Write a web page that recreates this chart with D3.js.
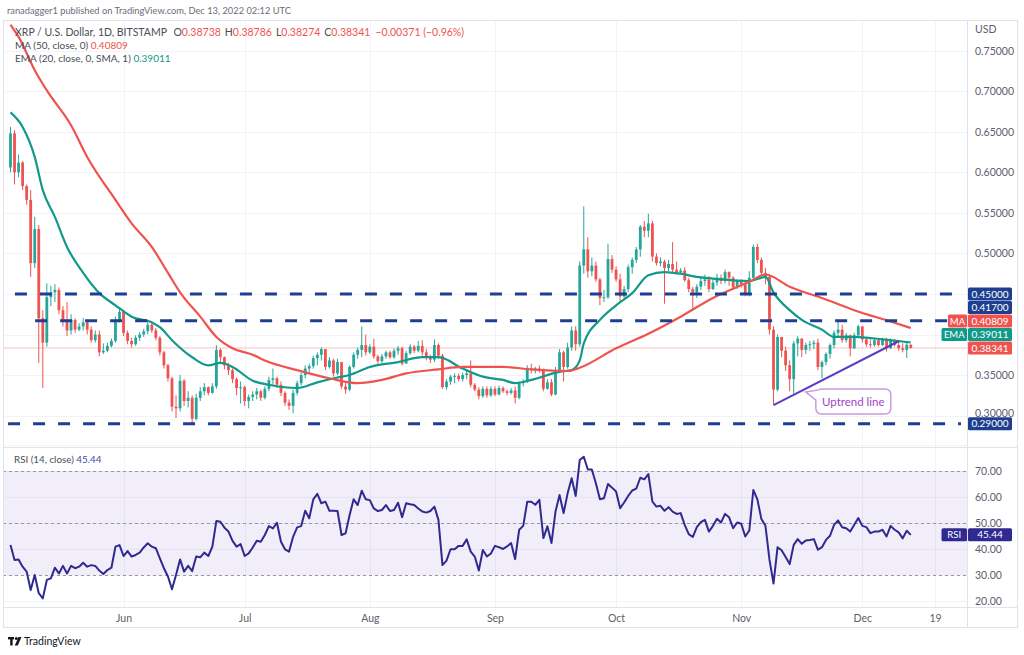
<!DOCTYPE html>
<html>
<head>
<meta charset="utf-8">
<script src="https://cdn.jsdelivr.net/npm/d3@7"></script>
<style>
  body { margin: 0; background: #ffffff; }
  svg { display: block; font-family: Lato, "Open Sans", sans-serif; }
</style>
</head>
<body>
<svg id="chart" width="1024" height="655"></svg>
<script>

/************************************************************************************************************/
// Data (XRP / USD, 1D, Bitstamp, from 4 May 2022, one value per day)

var startDay = Date.UTC(2022, 4, 4);
var firstOpen = 0.606;

var closes = [
  0.648,0.600,0.612,0.583,0.566,0.488,0.530,0.420,0.390,0.446,
  0.452,0.455,0.430,0.418,0.405,0.418,0.406,0.410,0.415,0.406,
  0.393,0.400,0.378,0.380,0.386,0.392,0.418,0.428,0.402,0.392,
  0.388,0.396,0.400,0.404,0.412,0.405,0.396,0.378,0.362,0.346,
  0.311,0.309,0.343,0.318,0.322,0.296,0.322,0.330,0.335,0.328,
  0.336,0.381,0.372,0.362,0.356,0.345,0.334,0.335,0.318,0.323,
  0.326,0.330,0.322,0.333,0.344,0.346,0.338,0.328,0.316,0.312,
  0.328,0.340,0.350,0.358,0.361,0.371,0.375,0.382,0.360,0.368,
  0.352,0.366,0.336,0.332,0.360,0.375,0.381,0.387,0.378,0.385,
  0.373,0.367,0.373,0.378,0.372,0.380,0.383,0.364,0.377,0.385,
  0.380,0.386,0.378,0.371,0.369,0.387,0.374,0.335,0.342,0.348,
  0.349,0.345,0.350,0.352,0.338,0.332,0.324,0.333,0.325,0.333,
  0.326,0.334,0.330,0.328,0.331,0.322,0.340,0.342,0.358,0.356,
  0.358,0.357,0.333,0.341,0.326,0.356,0.378,0.360,0.384,0.405,
  0.388,0.485,0.505,0.478,0.485,0.468,0.445,0.446,0.493,0.480,
  0.468,0.447,0.456,0.483,0.492,0.505,0.533,0.528,0.537,0.496,
  0.488,0.490,0.482,0.487,0.480,0.477,0.479,0.467,0.456,0.452,
  0.459,0.466,0.468,0.456,0.464,0.470,0.466,0.477,0.470,0.458,
  0.466,0.462,0.449,0.470,0.508,0.492,0.476,0.471,0.406,0.332,
  0.397,0.380,0.362,0.345,0.389,0.395,0.381,0.387,0.388,0.390,
  0.360,0.366,0.376,0.387,0.402,0.406,0.393,0.399,0.383,0.399,
  0.410,0.394,0.388,0.387,0.393,0.387,0.394,0.383,0.392,0.387,
  0.383,0.381,0.38738,0.38341
];

var highs = [
  0.656,0.652,0.622,0.614,0.585,0.578,0.545,0.535,0.430,0.463,
  0.460,0.462,0.458,0.435,0.440,0.425,0.420,0.414,0.420,0.418,
  0.410,0.405,0.405,0.389,0.390,0.395,0.422,0.434,0.430,0.405,
  0.396,0.399,0.403,0.407,0.416,0.414,0.408,0.398,0.380,0.364,
  0.348,0.325,0.350,0.345,0.330,0.325,0.327,0.335,0.340,0.336,
  0.340,0.387,0.383,0.373,0.365,0.358,0.347,0.342,0.337,0.326,
  0.330,0.334,0.332,0.336,0.348,0.358,0.348,0.342,0.330,0.320,
  0.332,0.343,0.353,0.362,0.364,0.374,0.378,0.384,0.382,0.372,
  0.370,0.370,0.366,0.340,0.362,0.378,0.384,0.410,0.400,0.388,
  0.395,0.375,0.376,0.380,0.380,0.383,0.386,0.385,0.380,0.388,
  0.387,0.392,0.393,0.382,0.375,0.394,0.389,0.376,0.345,0.350,
  0.352,0.352,0.353,0.357,0.368,0.340,0.335,0.336,0.336,0.336,
  0.336,0.337,0.336,0.332,0.334,0.336,0.342,0.345,0.362,0.364,
  0.360,0.362,0.358,0.345,0.345,0.360,0.382,0.380,0.390,0.410,
  0.410,0.490,0.558,0.520,0.495,0.490,0.470,0.455,0.512,0.498,
  0.484,0.475,0.460,0.486,0.495,0.508,0.535,0.540,0.549,0.540,
  0.500,0.495,0.492,0.492,0.514,0.490,0.482,0.483,0.470,0.459,
  0.462,0.470,0.474,0.472,0.468,0.475,0.474,0.480,0.478,0.472,
  0.468,0.468,0.464,0.478,0.511,0.512,0.495,0.482,0.474,0.410,
  0.400,0.397,0.385,0.368,0.392,0.398,0.395,0.390,0.392,0.393,
  0.395,0.368,0.378,0.389,0.405,0.418,0.412,0.402,0.400,0.402,
  0.412,0.410,0.396,0.394,0.396,0.395,0.396,0.396,0.395,0.394,
  0.392,0.389,0.390,0.38786
];

var lows = [
  0.600,0.585,0.594,0.578,0.560,0.471,0.482,0.365,0.334,0.385,
  0.435,0.440,0.425,0.410,0.398,0.400,0.402,0.404,0.405,0.400,
  0.390,0.390,0.373,0.376,0.378,0.384,0.390,0.415,0.398,0.388,
  0.384,0.386,0.392,0.397,0.400,0.402,0.393,0.374,0.358,0.342,
  0.305,0.297,0.305,0.312,0.310,0.290,0.294,0.318,0.325,0.325,
  0.327,0.333,0.365,0.357,0.350,0.340,0.325,0.315,0.312,0.309,
  0.318,0.320,0.318,0.320,0.330,0.338,0.334,0.324,0.312,0.307,
  0.303,0.325,0.337,0.346,0.353,0.358,0.362,0.368,0.356,0.358,
  0.348,0.350,0.333,0.327,0.330,0.358,0.370,0.372,0.374,0.376,
  0.370,0.364,0.365,0.370,0.370,0.370,0.375,0.362,0.365,0.375,
  0.377,0.378,0.374,0.368,0.365,0.366,0.370,0.333,0.332,0.338,
  0.340,0.342,0.342,0.345,0.335,0.330,0.320,0.322,0.322,0.323,
  0.324,0.325,0.328,0.325,0.326,0.315,0.320,0.336,0.340,0.352,
  0.352,0.353,0.330,0.332,0.324,0.325,0.354,0.342,0.358,0.380,
  0.380,0.385,0.475,0.470,0.472,0.465,0.436,0.440,0.444,0.476,
  0.465,0.440,0.445,0.452,0.475,0.488,0.496,0.520,0.520,0.490,
  0.485,0.484,0.438,0.478,0.476,0.474,0.474,0.465,0.452,0.430,
  0.445,0.455,0.460,0.452,0.455,0.460,0.462,0.463,0.460,0.455,
  0.456,0.458,0.447,0.447,0.466,0.488,0.472,0.462,0.400,0.313,
  0.330,0.372,0.355,0.330,0.327,0.373,0.372,0.376,0.380,0.382,
  0.356,0.346,0.362,0.370,0.383,0.398,0.390,0.390,0.373,0.382,
  0.396,0.390,0.385,0.384,0.385,0.385,0.386,0.379,0.382,0.385,
  0.380,0.378,0.371,0.38274
];

var rsi = [
  41.5,35.8,36.0,33.2,31.3,24.2,30.0,23.0,21.0,28.1,
  28.7,32.8,30.6,33.5,30.6,33.5,32.6,33.2,34.7,33.2,
  33.8,33.5,31.7,30.4,31.9,32.8,40.9,41.5,37.3,39.2,
  37.1,37.7,38.6,40.6,42.2,40.9,40.3,36.4,32.6,29.4,
  24.5,30.0,36.0,31.3,33.5,31.5,37.1,36.8,38.6,37.3,
  40.9,50.8,50.5,48.2,46.7,43.1,40.9,41.9,37.3,38.3,
  40.6,43.2,42.8,45.4,48.8,47.9,50.1,42.8,39.9,39.0,
  44.7,48.3,48.8,54.7,51.8,59.1,61.2,57.6,58.2,54.7,
  54.7,54.6,45.4,46.0,53.1,59.1,56.9,62.4,59.1,58.8,
  55.6,54.6,55.0,56.9,54.6,55.0,57.8,52.2,57.6,57.2,
  56.9,55.6,54.4,54.0,54.6,56.3,51.2,33.8,35.5,39.9,
  39.9,41.2,41.2,43.7,39.0,37.1,31.7,39.6,37.1,38.3,
  41.2,40.7,40.0,41.0,42.3,36.1,47.4,48.9,58.2,58.2,
  57.0,58.9,44.2,48.7,42.3,54.4,60.8,53.8,61.4,67.2,
  60.4,74.2,75.5,70.6,70.6,65.3,59.1,59.5,65.0,63.6,
  62.1,55.7,57.9,60.4,62.5,63.2,67.4,66.8,68.8,58.2,
  56.3,56.6,54.7,56.1,54.4,53.5,53.8,49.3,45.7,44.6,
  48.4,50.3,51.2,46.7,48.9,51.6,50.2,53.5,52.2,48.0,
  50.2,49.7,44.8,47.1,62.7,59.1,51.5,48.9,35.9,26.7,
  40.7,39.5,36.9,34.2,41.6,43.8,42.0,43.3,43.5,43.8,
  39.7,40.7,43.5,45.1,49.3,51.0,48.4,48.0,46.7,49.3,
  51.9,48.9,48.4,46.1,46.7,46.7,47.4,44.8,48.9,47.4,
  46.4,44.1,47.0,45.44
];

// indicator lines, [day index, value]
var ma50 = [
  [0,0.782],[2,0.767],[6,0.726],[9,0.701],[15,0.658],[19,0.619],[26,0.566],[30,0.537],[35,0.508],
  [39,0.476],[42,0.452],[47,0.422],[51,0.397],[55,0.383],[60,0.375],[63,0.368],[71,0.356],[79,0.346],
  [86,0.340],[92,0.344],[98,0.352],[106,0.357],[112,0.360],[122,0.360],[129,0.357],[138,0.355],
  [141,0.359],[150,0.383],[158,0.401],[166,0.422],[174,0.445],[183,0.465],[187,0.474],[193,0.459],
  [201,0.445],[209,0.430],[218,0.416],[223,0.40809]
];

var ema20 = [
  [0,0.674],[3,0.656],[6,0.619],[8,0.578],[11,0.545],[14,0.508],[18,0.476],[22,0.451],[26,0.436],
  [30,0.422],[35,0.415],[37,0.409],[40,0.393],[45,0.372],[49,0.362],[52,0.365],[55,0.360],[60,0.343],
  [64,0.338],[71,0.334],[76,0.341],[81,0.347],[84,0.350],[89,0.360],[96,0.366],[102,0.372],[106,0.372],
  [112,0.358],[117,0.348],[122,0.344],[125,0.340],[129,0.344],[136,0.354],[139,0.356],[141,0.368],
  [142,0.389],[146,0.418],[150,0.436],[154,0.451],[158,0.473],[162,0.477],[166,0.475],[170,0.471],
  [174,0.469],[183,0.466],[187,0.471],[189,0.452],[193,0.430],[196,0.418],[201,0.406],[204,0.397],
  [209,0.397],[216,0.394],[223,0.39011]
];

// horizontal levels drawn on the chart and the day they start from
var levels = [0.45, 0.417, 0.29];
var levelStart = [1.1, 6.1, -0.6];

// uptrend line, [day index, price]
var uptrend = [[189, 0.313], [220, 0.3917]];

var priceTicks = [0.30, 0.35, 0.40, 0.45, 0.50, 0.55, 0.60, 0.65, 0.70, 0.75];
var rsiTicks = [20, 30, 40, 50, 60, 70];
var timeTicks = [
  [Date.UTC(2022,5,1), "Jun"], [Date.UTC(2022,6,1), "Jul"], [Date.UTC(2022,7,1), "Aug"],
  [Date.UTC(2022,8,1), "Sep"], [Date.UTC(2022,9,1), "Oct"], [Date.UTC(2022,10,1), "Nov"],
  [Date.UTC(2022,11,1), "Dec"], [Date.UTC(2022,11,19), "19"]
];

var legend = { open: "0.38738", high: "0.38786", low: "0.38274", close: "0.38341",
  change: "\u22120.00371 (\u22120.96%)", ma: "0.40809", ema: "0.39011", rsi: "45.44" };

/************************************************************************************************************/

var GREEN = "#26a69a", RED = "#ef5350", NAVY = "#1e3f91", TEAL = "#11998a", INDIGO = "#2f2a8f";
var GRID = "#f1f3f8", BORDER = "#e0e3eb", TEXT = "#5d606b";

var svg = d3.select("#chart");

svg.margin = {left: 3, top: 20, right: 967, bottom: 628};
svg.priceBottom = 447;
svg.rsiBottom = 607;

function dayDate(i){ return new Date(startDay + i * 864e5); }

var x = d3.scaleUtc()
  .domain([new Date(startDay), new Date(Date.UTC(2022, 11, 19))])
  .range([10.5, 935]);

var yPrice = d3.scaleLinear().domain([0.29, 0.75]).range([423.7, 50.7]);
var yRsi = d3.scaleLinear().domain([30, 70]).range([575, 471]);

var opens = closes.map(function(c, i){ return i === 0 ? firstOpen : closes[i - 1]; });

// clip regions
var defs = svg.append("defs");
defs.append("clipPath").attr("id", "clipPrice").append("rect")
  .attr("x", svg.margin.left).attr("y", svg.margin.top)
  .attr("width", svg.margin.right - svg.margin.left).attr("height", svg.priceBottom - svg.margin.top);
defs.append("clipPath").attr("id", "clipRsi").append("rect")
  .attr("x", svg.margin.left).attr("y", svg.priceBottom)
  .attr("width", svg.margin.right - svg.margin.left).attr("height", svg.rsiBottom - svg.priceBottom);

/************************************************************************************************************/
// grid

var grid = svg.append("g").attr("class", "grid").attr("stroke", GRID).attr("stroke-width", 1);

priceTicks.forEach(function(t){
  grid.append("line").attr("x1", svg.margin.left).attr("x2", svg.margin.right)
    .attr("y1", Math.round(yPrice(t)) + 0.5).attr("y2", Math.round(yPrice(t)) + 0.5);
});
rsiTicks.concat([80]).forEach(function(t){
  grid.append("line").attr("x1", svg.margin.left).attr("x2", svg.margin.right)
    .attr("y1", Math.round(yRsi(t)) + 0.5).attr("y2", Math.round(yRsi(t)) + 0.5);
});
timeTicks.forEach(function(t){
  var px = Math.round(x(new Date(t[0]))) + 0.5;
  grid.append("line").attr("x1", px).attr("x2", px).attr("y1", svg.margin.top).attr("y2", svg.rsiBottom);
});

/************************************************************************************************************/
// price panel

var price = svg.append("g").attr("clip-path", "url(#clipPrice)");

// last price line
price.append("line")
  .attr("x1", svg.margin.left).attr("x2", svg.margin.right)
  .attr("y1", yPrice(+legend.close)).attr("y2", yPrice(+legend.close))
  .attr("stroke", RED).attr("stroke-opacity", 0.35).attr("stroke-width", 1);

var candles = price.append("g").selectAll("g")
  .data(closes.map(function(c, i){ return {i: i, o: opens[i], h: highs[i], l: lows[i], c: c}; }))
  .enter().append("g");

candles.append("line")
  .attr("x1", function(d){ return x(dayDate(d.i)); })
  .attr("x2", function(d){ return x(dayDate(d.i)); })
  .attr("y1", function(d){ return yPrice(d.h); })
  .attr("y2", function(d){ return yPrice(d.l); })
  .attr("stroke", function(d){ return d.c >= d.o ? GREEN : RED; })
  .attr("stroke-width", 1);

candles.append("rect")
  .attr("x", function(d){ return x(dayDate(d.i)) - 1.4; })
  .attr("width", 2.8)
  .attr("y", function(d){ return yPrice(Math.max(d.o, d.c)); })
  .attr("height", function(d){ return Math.max(1, Math.abs(yPrice(d.o) - yPrice(d.c))); })
  .attr("fill", function(d){ return d.c >= d.o ? GREEN : RED; });

var indicatorLine = d3.line()
  .x(function(d){ return x(dayDate(d[0])); })
  .y(function(d){ return yPrice(d[1]); })
  .curve(d3.curveMonotoneX);

price.append("path").attr("d", indicatorLine(ema20))
  .attr("fill", "none").attr("stroke", TEAL).attr("stroke-width", 2.2);
price.append("path").attr("d", indicatorLine(ma50))
  .attr("fill", "none").attr("stroke", RED).attr("stroke-width", 2.2);

// dashed levels
levels.forEach(function(v, k){
  price.append("line")
    .attr("x1", x(dayDate(levelStart[k]))).attr("x2", svg.margin.right - 6)
    .attr("y1", yPrice(v)).attr("y2", yPrice(v))
    .attr("stroke", NAVY).attr("stroke-width", 3).attr("stroke-dasharray", "12,13");
});

// uptrend line
price.append("line")
  .attr("x1", x(dayDate(uptrend[0][0]))).attr("y1", yPrice(uptrend[0][1]))
  .attr("x2", x(dayDate(uptrend[1][0]))).attr("y2", yPrice(uptrend[1][1]))
  .attr("stroke", "#5b3cc4").attr("stroke-width", 2);

// callout
var cx = x(dayDate(197)), cy = yPrice(0.329);
var bx = cx + 10, by = cy - 3, bw = 75, bh = 25;
price.append("path")
  .attr("d", "M" + (bx + 6) + "," + by + "H" + (bx + bw - 6) + "Q" + (bx + bw) + "," + by + " " + (bx + bw) + "," + (by + 6) +
    "V" + (by + bh - 6) + "Q" + (bx + bw) + "," + (by + bh) + " " + (bx + bw - 6) + "," + (by + bh) +
    "H" + (bx + 6) + "Q" + bx + "," + (by + bh) + " " + bx + "," + (by + bh - 6) +
    "V" + (by + 11) + "L" + cx + "," + cy + "L" + (bx + 3) + "," + (by + 0.8) + "Q" + (bx + 4) + "," + by + " " + (bx + 6) + "," + by + "Z")
  .attr("fill", "#ffffff").attr("stroke", "#c99be0").attr("stroke-width", 1.5);
price.append("text")
  .attr("x", bx + bw / 2).attr("y", by + bh / 2 + 4)
  .attr("text-anchor", "middle").attr("font-size", 11.5).attr("fill", "#9b45c9")
  .text("Uptrend line");

/************************************************************************************************************/
// RSI panel

var rsiG = svg.append("g").attr("clip-path", "url(#clipRsi)");

rsiG.append("rect")
  .attr("x", svg.margin.left).attr("width", svg.margin.right - svg.margin.left)
  .attr("y", yRsi(70)).attr("height", yRsi(30) - yRsi(70))
  .attr("fill", "#7e57c2").attr("fill-opacity", 0.1);

[70, 50, 30].forEach(function(v){
  rsiG.append("line")
    .attr("x1", svg.margin.left).attr("x2", svg.margin.right)
    .attr("y1", Math.round(yRsi(v)) + 0.5).attr("y2", Math.round(yRsi(v)) + 0.5)
    .attr("stroke", "#9598a1").attr("stroke-width", 1).attr("stroke-dasharray", "3,3");
});

rsiG.append("path")
  .attr("d", d3.line()
    .x(function(d, i){ return x(dayDate(i)); })
    .y(function(d){ return yRsi(d); })(rsi))
  .attr("fill", "none").attr("stroke", INDIGO).attr("stroke-width", 2).attr("stroke-linejoin", "round");

/************************************************************************************************************/
// frame and separators

var frame = svg.append("g").attr("stroke", BORDER).attr("fill", "none");
frame.append("rect").attr("x", 3.5).attr("y", 20.5).attr("width", 1014).attr("height", 607);
frame.append("line").attr("x1", 3).attr("x2", 1018).attr("y1", svg.priceBottom + 0.5).attr("y2", svg.priceBottom + 0.5);
frame.append("line").attr("x1", 3).attr("x2", 1018).attr("y1", svg.rsiBottom + 0.5).attr("y2", svg.rsiBottom + 0.5);
frame.append("line").attr("x1", svg.margin.right + 0.5).attr("x2", svg.margin.right + 0.5).attr("y1", 20).attr("y2", 628);

/************************************************************************************************************/
// price tags on the right axis, pushed up when they overlap

var tags = [
  {v: 0.45, t: "0.45000", c: NAVY},
  {v: 0.417, t: "0.41700", c: NAVY},
  {v: +legend.ma, t: legend.ma, c: RED, label: "MA"},
  {v: +legend.ema, t: legend.ema, c: TEAL, label: "EMA"},
  {v: +legend.close, t: legend.close, c: RED},
  {v: 0.29, t: "0.29000", c: NAVY}
];

var nextLimit = Infinity;
for (var k = tags.length - 1; k >= 0; k--) {
  tags[k].y = Math.min(yPrice(tags[k].v), nextLimit);
  nextLimit = tags[k].y - 13.5;
}

// axis ticks hidden behind a tag are not printed
function underTag(t){
  return tags.some(function(g){ return Math.abs(yPrice(t) - g.y) < 8; });
}

/************************************************************************************************************/
// axes

svg.axisPrice = svg.append("g").attr("transform", "translate(" + svg.margin.right + ",0)")
  .call(d3.axisRight(yPrice).tickValues(priceTicks.filter(function(t){ return !underTag(t); }))
    .tickFormat(d3.format(".5f")).tickSize(0).tickPadding(8));
svg.axisRsi = svg.append("g").attr("transform", "translate(" + svg.margin.right + ",0)")
  .call(d3.axisRight(yRsi).tickValues(rsiTicks).tickFormat(d3.format(".2f")).tickSize(0).tickPadding(8));
svg.axisx = svg.append("g").attr("transform", "translate(0," + svg.rsiBottom + ")")
  .call(d3.axisBottom(x).tickValues(timeTicks.map(function(t){ return new Date(t[0]); }))
    .tickFormat(function(d, i){ return timeTicks[i][1]; }).tickSize(0).tickPadding(8));

[svg.axisPrice, svg.axisRsi, svg.axisx].forEach(function(a){
  a.select(".domain").remove();
  a.selectAll("text").attr("fill", TEXT).attr("font-size", 10.5).attr("font-family", "Lato, 'Open Sans', sans-serif");
});

// 0.30000 sits just above the 0.29000 tag, partly hidden in the original
svg.axisPrice.selectAll(".tick").filter(function(d){ return d === 0.30; })
  .select("text").attr("dy", "0.05em");

svg.append("text").attr("x", 975).attr("y", 33).attr("font-size", 10.5).attr("fill", TEXT).text("USD");

function drawTag(g, yy, text, color, label){
  g.append("rect").attr("x", 968).attr("y", yy - 6.5).attr("width", 44).attr("height", 13)
    .attr("rx", 1.5).attr("fill", color);
  g.append("text").attr("x", 990).attr("y", yy + 3.6).attr("text-anchor", "middle")
    .attr("font-size", 10).attr("fill", "#ffffff").text(text);
  if (label) {
    var w = label.length * 6.5 + 6;
    g.append("rect").attr("x", 967 - w).attr("y", yy - 6.5).attr("width", w).attr("height", 13)
      .attr("rx", 1.5).attr("fill", color);
    g.append("text").attr("x", 967 - w / 2).attr("y", yy + 3.6).attr("text-anchor", "middle")
      .attr("font-size", 9.5).attr("fill", "#ffffff").text(label);
  }
}

var tagG = svg.append("g");
tags.forEach(function(t){ drawTag(tagG, t.y, t.t, t.c, t.label); });
drawTag(tagG, yRsi(+legend.rsi), legend.rsi, INDIGO, "RSI");

/************************************************************************************************************/
// legends and header

svg.append("text").attr("x", 7).attr("y", 14).attr("font-size", 9.3).attr("fill", "#6a6d78")
  .text("ranadagger1 published on TradingView.com, Dec 13, 2022 02:12 UTC");

var l1 = svg.append("text").attr("x", 15).attr("y", 36).attr("font-size", 10.5).attr("fill", "#4a4d57");
l1.append("tspan").text("XRP / U.S. Dollar, 1D, BITSTAMP ");
[["O", legend.open], ["H", legend.high], ["L", legend.low], ["C", legend.close]].forEach(function(p){
  l1.append("tspan").attr("dx", 4).attr("fill", "#4a4d57").text(p[0]);
  l1.append("tspan").attr("fill", RED).text(p[1]);
});
l1.append("tspan").attr("dx", 5).attr("fill", RED).text(legend.change);

var l2 = svg.append("text").attr("x", 15).attr("y", 49).attr("font-size", 10).attr("fill", "#4a4d57");
l2.append("tspan").text("MA (50, close, 0) ");
l2.append("tspan").attr("fill", RED).text(legend.ma);

var l3 = svg.append("text").attr("x", 15).attr("y", 62).attr("font-size", 10).attr("fill", "#4a4d57");
l3.append("tspan").text("EMA (20, close, 0, SMA, 1) ");
l3.append("tspan").attr("fill", TEAL).text(legend.ema);

var l4 = svg.append("text").attr("x", 14).attr("y", 463).attr("font-size", 9.8).attr("fill", "#4a4d57");
l4.append("tspan").text("RSI (14, close) ");
l4.append("tspan").attr("fill", "#4b44a3").text(legend.rsi);

// TradingView logo
var logo = svg.append("g").attr("transform", "translate(8,636)").attr("fill", "#131722");
logo.append("rect").attr("x", 0).attr("y", 1).attr("width", 6).attr("height", 2.4);
logo.append("rect").attr("x", 2.2).attr("y", 1).attr("width", 2.4).attr("height", 8.5);
logo.append("circle").attr("cx", 8.3).attr("cy", 2.5).attr("r", 1.5);
logo.append("path").attr("d", "M10.5,1H13.5L9.8,9.5H6.8Z");
svg.append("text").attr("x", 24).attr("y", 645).attr("font-size", 10.5).attr("fill", "#131722")
  .text("TradingView");

</script>
</body>
</html>
